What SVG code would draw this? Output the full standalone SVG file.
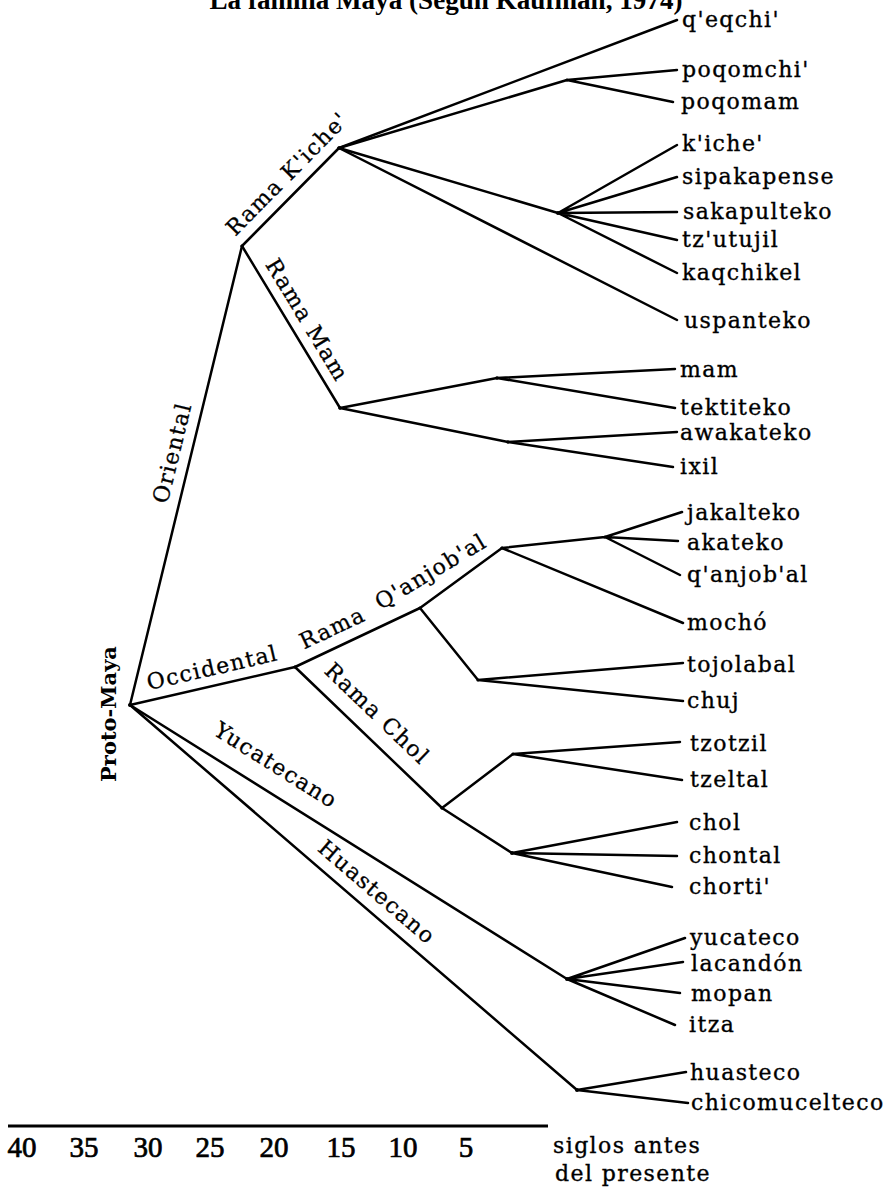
<svg xmlns="http://www.w3.org/2000/svg" width="889" height="1192" viewBox="0 0 889 1192">
  <style>
    .ln { stroke: #000; stroke-width: 2.5; fill: none; stroke-linecap: round; stroke-linejoin: round; }
    .lab { font-family: "DejaVu Serif", "Liberation Serif", serif; font-size: 22px; letter-spacing: 1.4px; fill: #000; stroke: #000; stroke-width: 0.35; }
    .br { font-family: "DejaVu Serif", "Liberation Serif", serif; font-size: 22px; letter-spacing: 1.4px; fill: #000; stroke: #000; stroke-width: 0.3; text-anchor: middle; }
    .root { font-family: "DejaVu Serif", "Liberation Serif", serif; font-size: 21px; font-weight: bold; fill: #000; text-anchor: middle; }
    .ttl { font-family: "Liberation Serif", serif; font-size: 27px; font-weight: bold; fill: #000; text-anchor: middle; }
    .num { font-family: "Liberation Serif", serif; font-size: 29px; fill: #000; stroke: #000; stroke-width: 0.7; text-anchor: middle; }
    .jn { fill: #000; }
  </style>

  <!-- title (runs off the top edge) -->
  <text class="ttl" x="446" y="8.5" textLength="473" lengthAdjust="spacingAndGlyphs">La familia Maya (Según Kaufman, 1974)</text>

  <!-- tree branches -->
  <g id="connectors">
    <!-- Oriental and its two ramas -->
    <path class="ln" d="M130,705 L242,246"/>
    <path class="ln" d="M242,246 L339,148"/>
    <path class="ln" d="M242,246 L340,408"/>
    <!-- K'iche' fan -->
    <path class="ln" d="M339,148 L677,20"/>
    <path class="ln" d="M339,148 L567,80 M567,80 L677,70 M567,80 L673,102"/>
    <path class="ln" d="M339,148 L558,213 M558,213 L677,145 M558,213 L677,177 M558,213 L677,212 M558,213 L677,240 M558,213 L677,273"/>
    <path class="ln" d="M339,148 L677,320"/>
    <!-- Mam fan -->
    <path class="ln" d="M340,408 L497,378 M497,378 L675,369 M497,378 L675,408"/>
    <path class="ln" d="M340,408 L508,442 M508,442 L677,432 M508,442 L673,467"/>
    <!-- Occidental -->
    <path class="ln" d="M130,705 L295,667"/>
    <path class="ln" d="M295,667 L420,608 L502,548"/>
    <path class="ln" d="M502,548 L605,537 M605,537 L682,512 M605,537 L678,541 M605,537 L680,575"/>
    <path class="ln" d="M502,548 L683,623"/>
    <path class="ln" d="M420,608 L478,680 M478,680 L683,663 M478,680 L683,701"/>
    <!-- Chol -->
    <path class="ln" d="M295,667 L442,808"/>
    <path class="ln" d="M442,808 L513,754 M513,754 L680,742 M513,754 L682,780"/>
    <path class="ln" d="M442,808 L512,853 M512,853 L677,822 M512,853 L677,856 M512,853 L672,887"/>
    <!-- Yucatecano -->
    <path class="ln" d="M130,705 L567,979 M567,979 L685,938 M567,979 L683,962 M567,979 L680,993 M567,979 L675,1025"/>
    <!-- Huastecano -->
    <path class="ln" d="M130,705 L577,1090 M577,1090 L686,1072 M577,1090 L688,1103"/>
  </g>

  <!-- inner nodes with their branch labels -->
  <g id="proto-maya">
    <circle class="jn" cx="130" cy="705" r="2"/>
    <text class="root" transform="translate(116,714) rotate(-90)">Proto-Maya</text>
  </g>
  <g id="oriental">
    <circle class="jn" cx="242" cy="246" r="1.6"/>
    <text class="br" transform="translate(179.5,454.6) rotate(-76.3)">Oriental</text>
  </g>
  <g id="rama-kiche">
    <circle class="jn" cx="339" cy="148" r="1.8"/>
    <text class="br" transform="translate(292.5,179) rotate(-45.3)">Rama K'iche'</text>
  </g>
  <g id="rama-mam">
    <circle class="jn" cx="340" cy="408" r="1.8"/>
    <text class="br" transform="translate(300.8,323.8) rotate(58.8)">Rama Mam</text>
  </g>
  <g id="occidental">
    <circle class="jn" cx="295" cy="667" r="1.6"/>
    <text class="br" transform="translate(214,675) rotate(-13)">Occidental</text>
  </g>
  <g id="rama-qanjobal">
    <circle class="jn" cx="420" cy="608" r="1.6"/>
    <circle class="jn" cx="502" cy="548" r="1.6"/>
    <text class="br" transform="translate(335.5,634.7) rotate(-25.3)">Rama</text>
    <text class="br" transform="translate(434.6,578) rotate(-31)">Q'anjob'al</text>
  </g>
  <g id="rama-chol">
    <circle class="jn" cx="442" cy="808" r="1.6"/>
    <text class="br" transform="translate(372,719) rotate(43.8)">Rama Chol</text>
  </g>
  <g id="yucatecano">
    <circle class="jn" cx="567" cy="979" r="2"/>
    <text class="br" transform="translate(272,771.5) rotate(32.1)">Yucatecano</text>
  </g>
  <g id="huastecano">
    <circle class="jn" cx="577" cy="1090" r="2"/>
    <text class="br" transform="translate(372,897.7) rotate(40.7)">Huastecano</text>
  </g>
  <g id="sub-poqom"><circle class="jn" cx="567" cy="80" r="1.6"/></g>
  <g id="sub-kiche"><circle class="jn" cx="558" cy="213" r="2"/></g>
  <g id="sub-mam"><circle class="jn" cx="497" cy="378" r="1.8"/></g>
  <g id="sub-awakateko"><circle class="jn" cx="508" cy="442" r="1.8"/></g>
  <g id="sub-jakalteko"><circle class="jn" cx="605" cy="537" r="1.6"/></g>
  <g id="sub-tojolabal"><circle class="jn" cx="478" cy="680" r="1.6"/></g>
  <g id="sub-tzotzil"><circle class="jn" cx="513" cy="754" r="1.6"/></g>
  <g id="sub-chol"><circle class="jn" cx="512" cy="853" r="2"/></g>

  <!-- languages -->
  <g id="qeqchi"><text class="lab" x="682" y="27">q'eqchi'</text></g>
  <g id="poqomchi"><text class="lab" x="682" y="77">poqomchi'</text></g>
  <g id="poqomam"><text class="lab" x="681" y="109">poqomam</text></g>
  <g id="kiche"><text class="lab" x="682" y="151">k'iche'</text></g>
  <g id="sipakapense"><text class="lab" x="682" y="184">sipakapense</text></g>
  <g id="sakapulteko"><text class="lab" x="683" y="219">sakapulteko</text></g>
  <g id="tzutujil"><text class="lab" x="682" y="247">tz'utujil</text></g>
  <g id="kaqchikel"><text class="lab" x="682" y="280">kaqchikel</text></g>
  <g id="uspanteko"><text class="lab" x="684" y="328">uspanteko</text></g>
  <g id="mam"><text class="lab" x="680" y="377">mam</text></g>
  <g id="tektiteko"><text class="lab" x="680" y="415">tektiteko</text></g>
  <g id="awakateko"><text class="lab" x="680" y="440">awakateko</text></g>
  <g id="ixil"><text class="lab" x="680" y="474">ixil</text></g>
  <g id="jakalteko"><text class="lab" x="687" y="520">jakalteko</text></g>
  <g id="akateko"><text class="lab" x="687" y="550">akateko</text></g>
  <g id="qanjobal"><text class="lab" x="687" y="582">q'anjob'al</text></g>
  <g id="mocho"><text class="lab" x="687" y="630">mochó</text></g>
  <g id="tojolabal"><text class="lab" x="687" y="672">tojolabal</text></g>
  <g id="chuj"><text class="lab" x="687" y="708">chuj</text></g>
  <g id="tzotzil"><text class="lab" x="690" y="751">tzotzil</text></g>
  <g id="tzeltal"><text class="lab" x="690" y="787">tzeltal</text></g>
  <g id="chol"><text class="lab" x="689" y="830">chol</text></g>
  <g id="chontal"><text class="lab" x="689" y="863">chontal</text></g>
  <g id="chorti"><text class="lab" x="689" y="894">chorti'</text></g>
  <g id="yucateco"><text class="lab" x="690" y="945">yucateco</text></g>
  <g id="lacandon"><text class="lab" x="691" y="971">lacandón</text></g>
  <g id="mopan"><text class="lab" x="691" y="1001">mopan</text></g>
  <g id="itza"><text class="lab" x="689" y="1032">itza</text></g>
  <g id="huasteco"><text class="lab" x="690" y="1080">huasteco</text></g>
  <g id="chicomucelteco"><text class="lab" x="691" y="1110">chicomucelteco</text></g>

  <!-- time scale -->
  <g id="escala">
    <path d="M8,1126 L548,1126" stroke="#000" stroke-width="3" fill="none"/>
    <text class="num" x="22" y="1157">40</text>
    <text class="num" x="84" y="1157">35</text>
    <text class="num" x="148" y="1157">30</text>
    <text class="num" x="210" y="1157">25</text>
    <text class="num" x="274" y="1157">20</text>
    <text class="num" x="341" y="1157">15</text>
    <text class="num" x="403" y="1157">10</text>
    <text class="num" x="466" y="1157">5</text>
    <text class="lab" x="553" y="1153">siglos antes</text>
    <text class="lab" x="555" y="1181">del presente</text>
  </g>
</svg>
